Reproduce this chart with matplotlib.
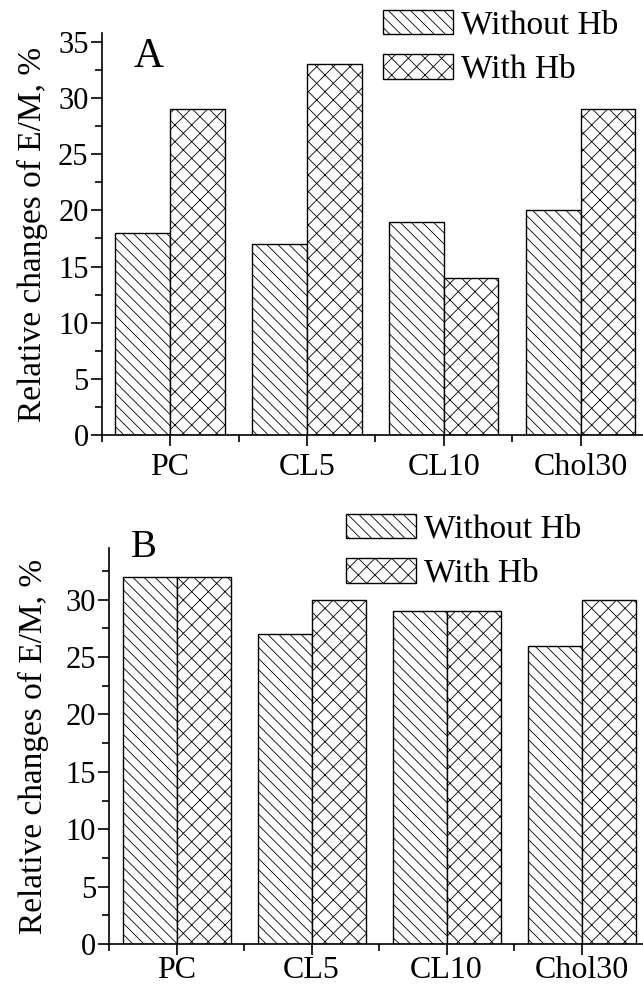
import matplotlib
matplotlib.use("Agg")
import matplotlib.pyplot as plt
import numpy as np
from matplotlib.ticker import MultipleLocator, FixedLocator

categories = ["PC", "CL5", "CL10", "Chol30"]
a_without = [18, 17, 19, 20]
a_with = [29, 33, 14, 29]
b_without = [32, 27, 29, 26]
b_with = [32, 30, 29, 30]
series_labels = ["Without Hb", "With Hb"]

plt.rcParams['font.family'] = ['Liberation Serif', 'DejaVu Serif']
plt.rcParams['hatch.linewidth'] = 0.6
plt.rcParams['hatch.color'] = '#333333'

W, H = 643, 985
fig = plt.figure(figsize=(W / 100, H / 100), dpi=100)

def px_axes(left, top, right, bottom):
    return fig.add_axes([left / W, 1 - bottom / H, (right - left) / W, (bottom - top) / H])

axA = px_axes(101.7, 33, 649, 435)
axB = px_axes(109.2, 548, 649, 944)

x = np.arange(len(categories))
bw = 0.4

def draw(ax, without, withv, ymax, letter, letter_size, leg_anchor, xpad):
    ax.bar(x - bw / 2, without, bw, facecolor='white', edgecolor='black',
           linewidth=1.0, hatch='\\\\\\', label=series_labels[0])
    ax.bar(x + bw / 2, withv, bw, facecolor='white', edgecolor='black',
           linewidth=1.0, hatch='xx', label=series_labels[1])
    ax.set_xlim(-0.5, 3.5)
    ax.set_ylim(0, ymax)
    ax.spines['top'].set_visible(False)
    ax.spines['right'].set_visible(False)
    ax.spines['left'].set_linewidth(1.2)
    ax.spines['bottom'].set_linewidth(1.2)
    ax.set_xticks(x)
    ax.set_xticklabels(categories, fontsize=23)
    ax.xaxis.set_minor_locator(FixedLocator([-0.5, 0.5, 1.5, 2.5, 3.5]))
    ax.yaxis.set_major_locator(MultipleLocator(5))
    ax.yaxis.set_minor_locator(MultipleLocator(2.5))
    ax.tick_params(axis='both', which='major', direction='out', length=8, width=1.2)
    ax.tick_params(axis='both', which='minor', direction='out', length=5, width=1.2)
    ax.tick_params(axis='y', labelsize=22, pad=1.5)
    ax.tick_params(axis='x', pad=xpad)
    ax.set_ylabel("Relative changes of E/M, %", fontsize=24)
    ax.text(letter[1], letter[2], letter[0], fontsize=letter_size,
            transform=None, ha='left', va='baseline')
    ax.legend(loc='upper left', bbox_to_anchor=leg_anchor,
              bbox_transform=fig.transFigure, frameon=False, fontsize=24,
              handlelength=2.1, handleheight=0.75, handletextpad=0.25,
              labelspacing=0.4, borderpad=0, borderaxespad=0)

draw(axA, a_without, a_with, 35.8, ("A", 134, H - 67), 30,
     (383 / W, 1 - 10 / H), 5)
draw(axB, b_without, b_with, 34.5, ("B", 131, H - 557), 28,
     (346 / W, 1 - 514 / H), 1)

axA.yaxis.set_label_coords(-0.098, 0.5)
axB.yaxis.set_label_coords(-0.112, 0.5)

fig.savefig("out.png", dpi=100)
